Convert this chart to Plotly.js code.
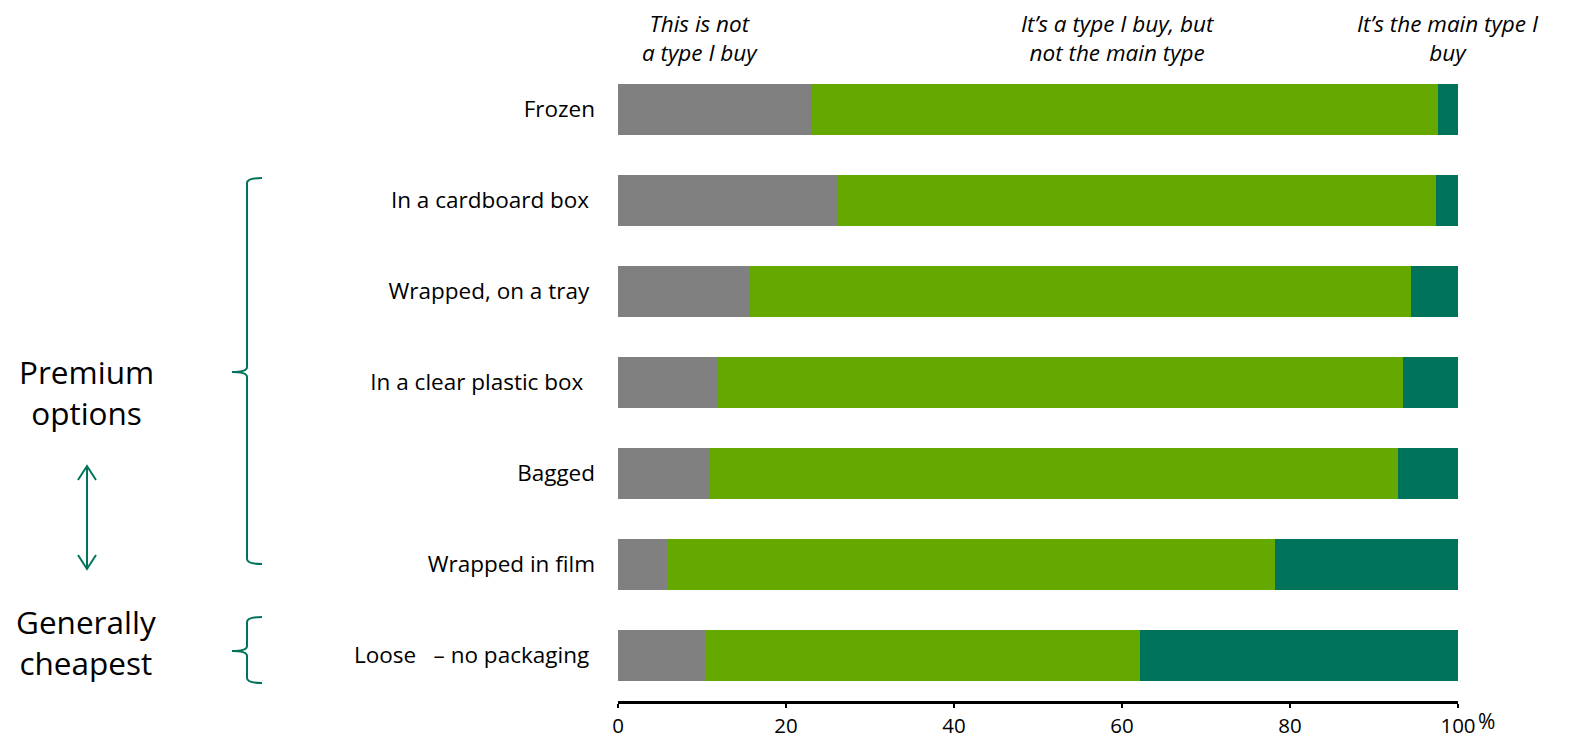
<!DOCTYPE html>
<html>
<head>
<meta charset="utf-8">
<script src="https://cdn.plot.ly/plotly-3.0.1.min.js"></script>
<style>html,body{margin:0;padding:0;background:#fff;}#chart{width:1571px;height:739px;}</style>
</head>
<body>
<div id="chart"></div>
<script>
const categories = ["Frozen", "In a cardboard box\u00a0", "Wrapped, on a tray\u00a0", "In a clear plastic box\u00a0\u00a0", "Bagged", "Wrapped in film", "Loose \u00a0\u00a0– no packaging\u00a0"];
const notType = [23.1, 26.2, 15.6, 11.8, 11.0, 5.8, 10.4];
const buyNotMain = [74.5, 71.2, 78.8, 81.7, 81.9, 72.4, 51.8];
const mainType = [2.4, 2.6, 5.6, 6.5, 7.1, 21.8, 37.8];
const seriesNames = ["This is not<br>a type I buy", "It\u2019s a type I buy, but<br>not the main type", "It\u2019s the main type I<br>buy"];
const tickVals = [0, 20, 40, 60, 80, 100];

const W = 1571, H = 739;
const L = 618, R = 113, T = 64, B = 38;
const pw = W - L - R, ph = H - T - B;
const px = x => (x - L) / pw;
const py = y => (H - B - y) / ph;
const P = (x, y) => px(x).toFixed(5) + "," + py(y).toFixed(5);

const teal = "#00745A", green = "#64A800", grey = "#808080";
const font = "Open Sans, Liberation Sans, sans-serif";

const traces = [
  {name: seriesNames[0], x: notType, color: grey},
  {name: seriesNames[1], x: buyNotMain, color: green},
  {name: seriesNames[2], x: mainType, color: teal}
].map(s => ({
  type: "bar", orientation: "h", y: categories, x: s.x, name: s.name,
  marker: {color: s.color}, hoverinfo: "none"
}));

function bracket(top, tip, bottom) {
  const xe = 262, xv = 247, xt = 232, r = 5;
  return "M" + P(xe, top) + " Q" + P(xv, top) + " " + P(xv, top + r) +
    " L" + P(xv, tip - r) + " Q" + P(xv, tip) + " " + P(xt, tip) +
    " Q" + P(xv, tip) + " " + P(xv, tip + r) +
    " L" + P(xv, bottom - r) + " Q" + P(xv, bottom) + " " + P(xe, bottom);
}
const ax = 87, aTop = 466, aBot = 569, ah = 14, aw = 9;
const arrowPath = "M" + P(ax, aTop) + " L" + P(ax, aBot) +
  " M" + P(ax - aw, aTop + ah) + " L" + P(ax, aTop) + " L" + P(ax + aw, aTop + ah) +
  " M" + P(ax - aw, aBot - ah) + " L" + P(ax, aBot) + " L" + P(ax + aw, aBot - ah);

const shapes = [
  {type: "path", xref: "paper", yref: "paper", path: bracket(178, 372, 564), line: {color: teal, width: 2}},
  {type: "path", xref: "paper", yref: "paper", path: bracket(617, 651, 683), line: {color: teal, width: 2}},
  {type: "path", xref: "paper", yref: "paper", path: arrowPath, line: {color: teal, width: 2}}
];

const headerX = [700, 1118, 1448];
const annotations = seriesNames.map((n, i) => ({
  text: n, xref: "paper", yref: "paper", x: px(headerX[i]), y: py(38), xanchor: "center", yanchor: "middle",
  showarrow: false, font: {family: font, size: 22.5, color: "#000", style: "italic"}
})).concat([
  {text: "Premium<br>options", xref: "paper", yref: "paper", x: px(86), y: py(392), xanchor: "center", yanchor: "middle",
   showarrow: false, font: {family: font, size: 31.5, color: "#000"}},
  {text: "Generally<br>cheapest", xref: "paper", yref: "paper", x: px(86), y: py(642), xanchor: "center", yanchor: "middle",
   showarrow: false, font: {family: font, size: 31.5, color: "#000"}},
  {text: "%", xref: "paper", yref: "paper", x: px(1476), y: py(721), xanchor: "left", yanchor: "middle",
   showarrow: false, font: {family: font, size: 21, color: "#000"}}
]);

const layout = {
  width: W, height: H, barmode: "stack", bargap: 0.44, showlegend: false,
  margin: {l: L, r: R, t: T, b: B, pad: 0},
  paper_bgcolor: "#fff", plot_bgcolor: "#fff",
  font: {family: font, size: 20, color: "#000"},
  xaxis: {range: [0, 100], tickvals: tickVals, ticktext: tickVals.map(String), showgrid: false, zeroline: false,
    showline: true, linecolor: "#000", linewidth: 3, ticks: "outside", ticklen: 4, tickwidth: 2, tickcolor: "#000",
    tickfont: {family: font, size: 20.5, color: "#000"}, fixedrange: true},
  yaxis: {autorange: "reversed", showgrid: false, zeroline: false, showline: false, ticks: "",
    ticklabelstandoff: 22, tickfont: {family: font, size: 22.5, color: "#000"}, fixedrange: true},
  shapes: shapes, annotations: annotations, hovermode: false
};

Plotly.newPlot("chart", traces, layout, {displayModeBar: false, staticPlot: true});
</script>
</body>
</html>
